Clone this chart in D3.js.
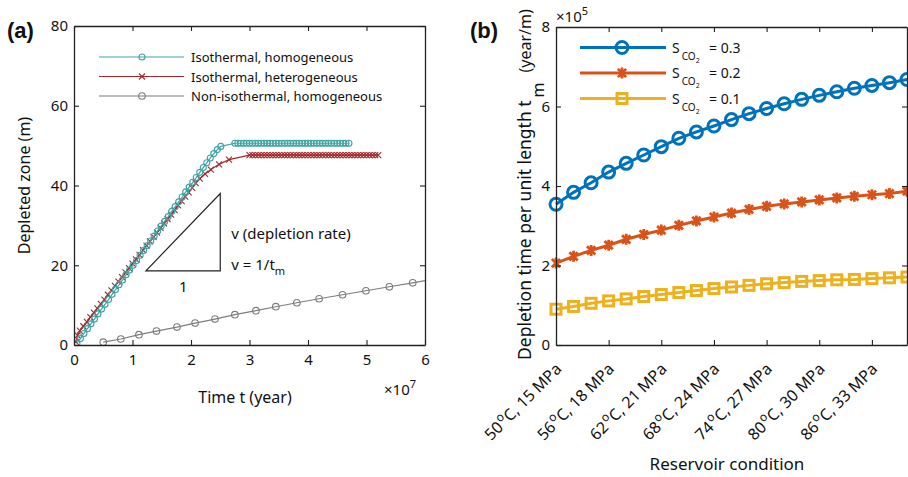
<!DOCTYPE html>
<html>
<head>
<meta charset="utf-8">
<script src="https://cdn.jsdelivr.net/npm/d3@7"></script>
<style>
    body { margin: 0; background: #fff; }
    text { font-family: "Noto Sans", sans-serif; fill: #111; }
</style>
</head>
<body>
<svg id="chart" width="908" height="477"></svg>
<script>
// ---- panel (a): depleted zone vs time (time in units of 1e7 years) ----
const homoTime = [0.05, 0.11, 0.17, 0.23, 0.29, 0.35, 0.41, 0.47, 0.53, 0.59, 0.65, 0.71, 0.77, 0.83, 0.89,
    0.95, 1.01, 1.07, 1.13, 1.19, 1.25, 1.31, 1.37, 1.43, 1.49, 1.55, 1.61, 1.67, 1.73, 1.79, 1.85, 1.91,
    1.97, 2.03, 2.09, 2.15, 2.21, 2.27, 2.33, 2.39, 2.45, 2.51,
    2.75, 2.80, 2.85, 2.90, 2.95, 3.00, 3.05, 3.10, 3.15, 3.20, 3.25, 3.30, 3.35, 3.40, 3.45, 3.50, 3.55,
    3.60, 3.65, 3.70, 3.75, 3.80, 3.85, 3.90, 3.95, 4.00, 4.05, 4.10, 4.15, 4.20, 4.25, 4.30, 4.35, 4.40,
    4.45, 4.50, 4.55, 4.60, 4.65, 4.70];
const homoDepth = [0.4, 1.6, 2.9, 4.1, 5.3, 6.5, 7.8, 9.0, 10.2, 11.4, 12.7, 13.9, 15.1, 16.3, 17.6,
    18.8, 20.0, 21.2, 22.5, 23.7, 24.9, 26.1, 27.3, 28.6, 29.8, 31.0, 32.2, 33.5, 34.7, 35.9, 37.1, 38.4,
    39.6, 40.8, 42.0, 43.3, 44.5, 45.7, 46.9, 48.0, 49.0, 49.8,
    50.6, 50.6, 50.6, 50.6, 50.6, 50.6, 50.6, 50.6, 50.6, 50.6, 50.6, 50.6, 50.6, 50.6, 50.6, 50.6, 50.6,
    50.6, 50.6, 50.6, 50.6, 50.6, 50.6, 50.6, 50.6, 50.6, 50.6, 50.6, 50.6, 50.6, 50.6, 50.6, 50.6, 50.6,
    50.6, 50.6, 50.6, 50.6, 50.6, 50.6];

const heteroTime = [0.03, 0.06, 0.10, 0.16, 0.22, 0.28, 0.34, 0.40, 0.46, 0.52, 0.58, 0.64, 0.70, 0.76,
    0.82, 0.88, 0.94, 1.00, 1.06, 1.12, 1.18, 1.24, 1.30, 1.36, 1.42, 1.48, 1.54, 1.60, 1.66, 1.72, 1.78,
    1.84, 1.90, 1.96, 2.02, 2.08, 2.15, 2.24, 2.34, 2.48, 2.65,
    3.00, 3.05, 3.10, 3.15, 3.20, 3.25, 3.30, 3.35, 3.40, 3.45, 3.50, 3.55, 3.60, 3.65, 3.70, 3.75, 3.80,
    3.85, 3.90, 3.95, 4.00, 4.05, 4.10, 4.15, 4.20, 4.25, 4.30, 4.35, 4.40, 4.45, 4.50, 4.55, 4.60, 4.65,
    4.70, 4.75, 4.80, 4.85, 4.90, 4.95, 5.00, 5.05, 5.10, 5.15, 5.20];
const heteroDepth = [0.8, 2.4, 3.6, 4.7, 5.8, 7.0, 8.1, 9.2, 10.3, 11.4, 12.6, 13.7, 14.8, 15.9,
    17.0, 18.2, 19.3, 20.4, 21.5, 22.6, 23.8, 24.9, 26.0, 27.1, 28.2, 29.4, 30.5, 31.6, 32.7, 33.8, 35.0,
    36.1, 37.2, 38.3, 39.4, 40.6, 41.7, 42.9, 44.0, 45.3, 46.5,
    47.6, 47.6, 47.6, 47.6, 47.6, 47.6, 47.6, 47.6, 47.6, 47.6, 47.6, 47.6, 47.6, 47.6, 47.6, 47.6, 47.6,
    47.6, 47.6, 47.6, 47.6, 47.6, 47.6, 47.6, 47.6, 47.6, 47.6, 47.6, 47.6, 47.6, 47.6, 47.6, 47.6, 47.6,
    47.6, 47.6, 47.6, 47.6, 47.6, 47.6, 47.6, 47.6, 47.6, 47.6, 47.6];

const nonIsoTime = [0.50, 0.80, 1.11, 1.41, 1.76, 2.07, 2.41, 2.75, 3.11, 3.45, 3.81, 4.19, 4.59, 4.99, 5.39, 5.79, 6.19];
const nonIsoDepth = [0.7, 1.5, 2.6, 3.5, 4.5, 5.5, 6.5, 7.6, 8.6, 9.6, 10.6, 11.6, 12.6, 13.6, 14.6, 15.6, 16.6];

// slope triangle corners (time, depth)
const triangleTime = [1.23, 2.5, 2.5];
const triangleDepth = [18.6, 18.6, 38];

const timeTicks = [0, 1, 2, 3, 4, 5, 6];
const depthTicks = [0, 20, 40, 60, 80];
const seriesNamesA = ['Isothermal, homogeneous', 'Isothermal, heterogeneous', 'Non-isothermal, homogeneous'];

// ---- panel (b): depletion time per unit length (units of 1e5 year/m) ----
const conditionTemp = [50, 52, 54, 56, 58, 60, 62, 64, 66, 68, 70, 72, 74, 76, 78, 80, 82, 84, 86, 88, 90];
const tm03 = [3.54, 3.84, 4.08, 4.35, 4.57, 4.78, 4.99, 5.20, 5.36, 5.51, 5.67, 5.82, 5.95, 6.07, 6.18, 6.28, 6.37, 6.46, 6.53, 6.60, 6.68];
const tm02 = [2.06, 2.23, 2.38, 2.51, 2.66, 2.78, 2.89, 3.01, 3.12, 3.22, 3.32, 3.41, 3.49, 3.55, 3.60, 3.65, 3.70, 3.74, 3.78, 3.81, 3.87];
const tm01 = [0.90, 0.97, 1.05, 1.11, 1.16, 1.22, 1.27, 1.32, 1.37, 1.42, 1.46, 1.50, 1.54, 1.57, 1.60, 1.62, 1.64, 1.65, 1.67, 1.69, 1.71];
const saturations = ['0.3', '0.2', '0.1'];

const tickTemps = [50, 56, 62, 68, 74, 80, 86];
const tickPressures = [15, 18, 21, 24, 27, 30, 33];
const tmTicks = [0, 2, 4, 6, 8];

const svg = d3.select('#chart');

// marker painters
function drawMarker(g, type, x, y, color, size, width) {
    if (type === 'circle') {
        g.append('circle').attr('cx', x).attr('cy', y).attr('r', size)
            .attr('fill', 'none').attr('stroke', color).attr('stroke-width', width);
    } else if (type === 'x') {
        g.append('path')
            .attr('d', `M${x - size},${y - size}L${x + size},${y + size}M${x - size},${y + size}L${x + size},${y - size}`)
            .attr('stroke', color).attr('stroke-width', width);
    } else if (type === 'star') {
        const s = size, d = size * 0.75;
        g.append('path')
            .attr('d', `M${x},${y - s}L${x},${y + s}M${x - d},${y - d}L${x + d},${y + d}M${x - d},${y + d}L${x + d},${y - d}`)
            .attr('stroke', color).attr('stroke-width', width);
    } else if (type === 'square') {
        g.append('rect').attr('x', x - size).attr('y', y - size)
            .attr('width', 2 * size).attr('height', 2 * size)
            .attr('fill', 'none').attr('stroke', color).attr('stroke-width', width);
    }
}

function boxAxes(g, x, y, xTicks, yTicks, showXLabels, yFormat) {
    const [x0, x1] = x.range();
    const [y0, y1] = y.range();
    const bottom = g.append('g').attr('transform', `translate(0,${y0})`)
        .call(d3.axisBottom(x).tickValues(xTicks).tickSize(-5).tickSizeOuter(0).tickPadding(9)
            .tickFormat(showXLabels ? d3.format('d') : ''));
    g.append('g').attr('transform', `translate(0,${y1})`)
        .call(d3.axisTop(x).tickValues(xTicks).tickSize(-5).tickSizeOuter(0).tickFormat(''));
    g.append('g').attr('transform', `translate(${x0},0)`)
        .call(d3.axisLeft(y).tickValues(yTicks).tickSize(-5).tickSizeOuter(0).tickPadding(6).tickFormat(yFormat));
    g.append('g').attr('transform', `translate(${x1},0)`)
        .call(d3.axisRight(y).tickValues(yTicks).tickSize(-5).tickSizeOuter(0).tickFormat(''));
    g.selectAll('.domain').attr('stroke', '#222').attr('stroke-width', 1.3);
    g.selectAll('.tick line').attr('stroke', '#222').attr('stroke-width', 1.1);
    g.selectAll('.tick text').style('font-family', '"Noto Sans", sans-serif').style('font-size', '15px').attr('fill', '#111');
    return bottom;
}

// ================= panel (a) =================
const xA = d3.scaleLinear().domain([0, 6]).range([74, 425]);
const yA = d3.scaleLinear().domain([0, 80]).range([345, 26]);
const gA = svg.append('g');

svg.append('clipPath').attr('id', 'clipA').append('rect')
    .attr('x', 74).attr('y', 26).attr('width', 351).attr('height', 319);

const seriesA = [
    {time: homoTime, depth: homoDepth, color: '#3fa3a4', marker: 'circle', size: 3},
    {time: heteroTime, depth: heteroDepth, color: '#a3292b', marker: 'x', size: 3},
    {time: nonIsoTime, depth: nonIsoDepth, color: '#7d7d7d', marker: 'circle', size: 3.3}
];

const lineA = d3.line().x((d) => xA(d[0])).y((d) => yA(d[1]));
const dataLayerA = gA.append('g').attr('clip-path', 'url(#clipA)');
seriesA.slice().reverse().forEach((s) => {
    const pts = s.time.map((t, i) => [t, s.depth[i]]);
    dataLayerA.append('path').attr('d', lineA(pts))
        .attr('fill', 'none').attr('stroke', s.color).attr('stroke-width', 1.2);
    const mg = dataLayerA.append('g');
    pts.forEach((p) => drawMarker(mg, s.marker, xA(p[0]), yA(p[1]), s.color, s.size, 1.1));
});

// slope triangle
const triPts = triangleTime.map((t, i) => [t, triangleDepth[i]]);
gA.append('path').attr('d', lineA(triPts) + 'Z')
    .attr('fill', 'none').attr('stroke', '#222').attr('stroke-width', 1.2);
gA.append('text').attr('x', xA(2.5) + 11).attr('y', yA(26.5))
    .style('font-size', '15px').text('v (depletion rate)');
const rateText = gA.append('text').attr('x', xA(2.5) + 11).attr('y', yA(18.8))
    .style('font-size', '15px').text('v = 1/t');
rateText.append('tspan').attr('dy', 5).style('font-size', '11px').text('m');
gA.append('text').attr('x', xA(1.87)).attr('y', yA(13.2)).attr('text-anchor', 'middle')
    .style('font-size', '15px').text('1');

boxAxes(gA, xA, yA, timeTicks, depthTicks, true, d3.format('d'));

// exponent and axis labels
const expA = gA.append('text').attr('x', 384).attr('y', 395).style('font-size', '15px').text('\u00d710');
expA.append('tspan').attr('dy', -7).style('font-size', '11px').text('7');
gA.append('text').attr('x', 245).attr('y', 403).attr('text-anchor', 'middle')
    .style('font-size', '16px').text('Time t (year)');
gA.append('text').attr('transform', `translate(30,${(yA.range()[0] + yA.range()[1]) / 2}) rotate(-90)`)
    .attr('text-anchor', 'middle').style('font-size', '16px').text('Depleted zone (m)');

// legend (a)
seriesNamesA.forEach((name, i) => {
    const ly = 57 + i * 19.5;
    const s = seriesA[i];
    gA.append('line').attr('x1', 99).attr('x2', 184).attr('y1', ly).attr('y2', ly)
        .attr('stroke', s.color).attr('stroke-width', 1.2);
    drawMarker(gA, s.marker, 142, ly, s.color, s.size, 1.1);
    gA.append('text').attr('x', 191).attr('y', ly + 5).style('font-size', '13px').text(name);
});

gA.append('text').attr('x', 7).attr('y', 38)
    .style('font-family', '"Liberation Sans", Arial, sans-serif').style('font-weight', 'bold')
    .style('font-size', '22px').text('(a)');

// ================= panel (b) =================
const xB = d3.scaleLinear().domain([50, 90]).range([556, 907]);
const yB = d3.scaleLinear().domain([0, 8]).range([345, 27]);
const gB = svg.append('g');

const seriesB = [
    {values: tm03, color: '#0072bd', marker: 'circle', size: 6},
    {values: tm02, color: '#d95319', marker: 'star', size: 5.5},
    {values: tm01, color: '#edb120', marker: 'square', size: 5}
];

const lineB = d3.line().x((d) => xB(d[0])).y((d) => yB(d[1]));
seriesB.slice().reverse().forEach((s) => {
    const pts = conditionTemp.map((t, i) => [t, s.values[i]]);
    gB.append('path').attr('d', lineB(pts))
        .attr('fill', 'none').attr('stroke', s.color).attr('stroke-width', 3);
    const mg = gB.append('g');
    pts.forEach((p) => drawMarker(mg, s.marker, xB(p[0]), yB(p[1]), s.color, s.size, s.marker === 'star' ? 2.8 : 3));
});

const bottomB = boxAxes(gB, xB, yB, tickTemps, tmTicks, false, d3.format('d'));

// rotated condition labels
bottomB.selectAll('.tick text').remove();
bottomB.selectAll('.tick').append('text')
    .attr('transform', 'translate(6,25) rotate(-45)')
    .attr('text-anchor', 'end')
    .style('font-size', '16px')
    .each(function (d, i) {
        const t = d3.select(this);
        t.append('tspan').text(String(d));
        t.append('tspan').attr('dx', 1).attr('dy', -7).style('font-size', '12px').text('o');
        t.append('tspan').attr('dy', 7).text(`C, ${tickPressures[i]} MPa`);
    });

const expB = gB.append('text').attr('x', 556).attr('y', 22).style('font-size', '15px').text('\u00d710');
expB.append('tspan').attr('dy', -7).style('font-size', '11px').text('5');

gB.append('text').attr('x', 727).attr('y', 470).attr('text-anchor', 'middle')
    .style('font-size', '17px').text('Reservoir condition');

const yLabB = gB.append('text').attr('transform', 'translate(531,360) rotate(-90)')
    .attr('text-anchor', 'start').style('font-size', '17.5px');
yLabB.append('tspan').text('Depletion time per unit length t');
yLabB.append('tspan').attr('dx', 3).attr('dy', 13).style('font-size', '16px').text('m');
yLabB.append('tspan').attr('dx', 10).attr('dy', -13).style('font-size', '16px').text('(year/m)');

// legend (b)
saturations.forEach((sat, i) => {
    const ly = 47.5 + i * 25.5;
    const s = seriesB[i];
    gB.append('line').attr('x1', 580).attr('x2', 666).attr('y1', ly).attr('y2', ly)
        .attr('stroke', s.color).attr('stroke-width', 3);
    drawMarker(gB, s.marker, 622, ly, s.color, s.size, s.marker === 'star' ? 2.8 : 3);
    const lt = gB.append('text').attr('x', 672).attr('y', ly + 5).style('font-size', '14px');
    lt.append('tspan').text('S');
    lt.append('tspan').attr('dx', 2).attr('dy', 7).style('font-size', '10px').text('CO');
    lt.append('tspan').attr('dy', 3).style('font-size', '7px').text('2');
    lt.append('tspan').attr('x', 709).attr('y', ly + 5).text('= ' + sat);
});

gB.append('text').attr('x', 470).attr('y', 38)
    .style('font-family', '"Liberation Sans", Arial, sans-serif').style('font-weight', 'bold')
    .style('font-size', '22px').text('(b)');
</script>
</body>
</html>
